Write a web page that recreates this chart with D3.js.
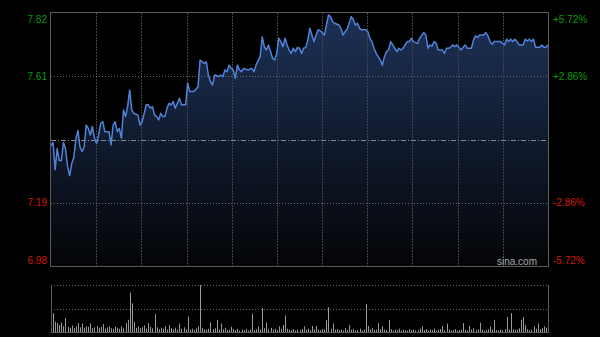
<!DOCTYPE html>
<html>
<head>
<meta charset="utf-8">
<script src="https://cdn.jsdelivr.net/npm/d3@7"></script>
<style>
  body { margin: 0; background: #000; }
  svg { display: block; background: #000; font-family: "Liberation Sans", Arial, sans-serif; }
</style>
</head>
<body>
<svg width="600" height="337"></svg>
<script>
// minute index (0..240) and price
var minutes = [0,1,2,3,4,5,6,7,8,9,10,11,12,13,14,15,16,17,18,19,20,21,22,23,24,25,26,28,29,30,31,32,33,34,35,36,37,38,39,40,42,43,44,45,46,
  47,48,49,50,51,52,53,54,55,56,57,58,59,60,61,62,63,65,66,67,69,71,72,73,74,75,76,77,78,79,81,82,83,84,85,86,87,88,89,90,91,92,93,95,
  97,98,99,101,102,103,104,105,106,107,108,109,110,111,112,113,114,115,116,117,118,119,120,121,122,123,124,125,126,127,128,129,130,131,132,134,135,136,137,139,140,141,142,143,
  145,146,147,148,149,150,152,153,154,155,156,157,158,159,160,161,162,163,164,165,166,167,168,169,170,172,173,174,175,177,178,180,181,182,183,184,185,186,187,189,190,191,192,
  193,194,195,196,197,198,199,200,201,203,204,205,206,207,209,210,211,212,213,214,217,219,220,221,222,223,224,225,226,228,229,230,231,232,233,234,236,237,238,239,240];
var prices = [7.38,7.39,7.30,7.37,7.33,7.33,7.39,7.37,7.31,7.28,7.32,7.34,7.40,7.43,7.375,7.36,7.376,7.448,7.437,7.415,7.443,7.404,7.387,7.415,7.454,7.459,7.426,7.426,7.382,7.448,7.459,7.426,7.437,7.404,7.498,7.476,7.509,7.564,7.498,7.487,7.481,7.448,7.459,7.487,7.515,
  7.515,7.504,7.509,7.481,7.476,7.465,7.487,7.476,7.476,7.504,7.520,7.515,7.526,7.504,7.520,7.537,7.515,7.515,7.587,7.559,7.559,7.575,7.664,7.658,7.653,7.658,7.614,7.592,7.581,7.614,7.609,7.614,7.609,7.631,7.625,7.647,7.636,7.631,7.603,7.647,7.631,7.625,7.636,7.631,
  7.636,7.625,7.647,7.675,7.741,7.708,7.697,7.714,7.692,7.670,7.664,7.686,7.736,7.725,7.708,7.736,7.714,7.697,7.686,7.703,7.692,7.706,7.703,7.686,7.703,7.706,7.730,7.769,7.747,7.725,7.747,7.764,7.761,7.755,7.747,7.813,7.808,7.791,7.786,7.780,7.769,7.747,7.758,7.766,
  7.808,7.797,7.780,7.786,7.769,7.764,7.764,7.758,7.736,7.725,7.703,7.686,7.675,7.664,7.647,7.675,7.692,7.697,7.725,7.714,7.703,7.692,7.703,7.697,7.703,7.725,7.725,7.736,7.725,7.719,7.736,7.755,7.747,7.703,7.714,7.710,7.725,7.719,7.697,7.697,7.686,7.703,7.703,
  7.706,7.714,7.708,7.714,7.706,7.697,7.706,7.714,7.703,7.703,7.730,7.744,7.739,7.747,7.747,7.755,7.744,7.725,7.716,7.725,7.725,7.714,7.733,7.725,7.733,7.725,7.733,7.725,7.714,7.714,7.733,7.727,7.733,7.725,7.733,7.706,7.706,7.714,7.706,7.706,7.714];

// volume per minute, as % of the biggest bar
var volumes = [100,40,22,19,15,20,12,30,11,9,14,8,12,19,10,18,9,12,11,18,
  8,10,13,9,11,17,7,10,12,8,6,11,9,7,12,8,19,26,84,61,
  22,9,12,8,10,14,7,19,11,8,38,10,6,9,7,12,5,15,8,6,
  9,5,18,7,10,6,33,5,7,4,8,12,100,9,6,5,7,20,6,8,
  26,5,18,6,9,4,5,11,6,4,7,3,5,4,6,3,5,39,4,6,
  12,5,51,8,20,6,9,5,7,4,12,6,15,35,7,5,4,6,3,5,
  4,6,12,5,7,4,13,6,13,5,4,6,5,25,53,7,18,5,6,4,
  5,3,8,4,15,5,6,3,4,7,3,5,60,13,6,8,4,5,19,6,
  12,5,4,26,6,3,5,4,7,3,5,4,3,6,4,5,3,4,7,12,
  4,6,3,5,4,7,3,5,6,13,4,18,5,3,4,6,3,4,5,19,
  4,3,13,5,8,4,6,20,5,3,4,6,12,5,26,4,3,5,4,6,
  32,5,40,6,4,5,8,26,32,15,6,4,5,12,7,18,6,8,12,9,
  30];

var priceTicks = [7.82, 7.61, 7.19, 6.98];
var priceLabels = ["7.82", "7.61", "7.19", "6.98"];
var pctLabels = ["+5.72%", "+2.86%", "-2.86%", "-5.72%"];
var prevClose = 7.40;

var svg = d3.select("svg"),
    margin = {top: 13, left: 51},
    width = 497,
    height = 253,
    volTop = 285,
    volHeight = 47;

var g = svg.append("g").attr("transform", "translate(" + margin.left + "," + margin.top + ")");

var x = d3.scaleLinear().domain([0, 240]).range([0, width]);
var y = d3.scaleLinear().domain([6.98, 7.82]).range([height, 0]);

var data = minutes.map(function(m, i) { return {m: m, p: prices[i]}; });

// gradient for the area under the line
var grad = svg.append("defs").append("linearGradient")
    .attr("id", "fade")
    .attr("gradientUnits", "userSpaceOnUse")
    .attr("x1", 0).attr("y1", 0).attr("x2", 0).attr("y2", height);
grad.append("stop").attr("offset", "0%").attr("stop-color", "#1d3157");
grad.append("stop").attr("offset", "100%").attr("stop-color", "#040507");

var area = d3.area()
    .x(function(d) { return x(d.m); })
    .y0(height)
    .y1(function(d) { return y(d.p); });

var line = d3.line()
    .x(function(d) { return x(d.m); })
    .y(function(d) { return y(d.p); });

g.append("path")
    .datum(data)
    .attr("fill", "url(#fade)")
    .attr("d", area);

// vertical grid
var vx = d3.range(1, 11).map(function(k) { return k * width / 11; });
g.selectAll(".vgrid").data(vx).enter().append("line")
    .attr("x1", function(d) { return Math.round(d) + 0.5; })
    .attr("x2", function(d) { return Math.round(d) + 0.5; })
    .attr("y1", 0).attr("y2", height)
    .attr("stroke", "#444")
    .attr("stroke-dasharray", "2,1");

// horizontal grid
g.selectAll(".hgrid").data([7.61, 7.19]).enter().append("line")
    .attr("x1", 0).attr("x2", width)
    .attr("y1", function(d) { return Math.round(y(d)) + 0.5; })
    .attr("y2", function(d) { return Math.round(y(d)) + 0.5; })
    .attr("stroke", "#6a6a6a")
    .attr("stroke-dasharray", "1,2");

g.append("line")
    .attr("x1", 0).attr("x2", width)
    .attr("y1", Math.round(y(prevClose)) + 0.5)
    .attr("y2", Math.round(y(prevClose)) + 0.5)
    .attr("stroke", "#8a8a8a")
    .attr("stroke-dasharray", "5,2,1,2");

g.append("path")
    .datum(data)
    .attr("fill", "none")
    .attr("stroke", "#5083da")
    .attr("stroke-width", 1.5)
    .attr("stroke-linejoin", "round")
    .attr("d", line);

g.append("rect")
    .attr("x", -0.5).attr("y", -0.5)
    .attr("width", width + 1).attr("height", height + 1)
    .attr("fill", "none")
    .attr("stroke", "#5a5a5a");

// left / right labels
var lblY = [y(7.82) + 10, y(7.61) + 4, y(7.19) + 3, y(6.98) - 2];
svg.selectAll(".pl").data(priceLabels).enter().append("text")
    .attr("x", 47)
    .attr("y", function(d, i) { return margin.top + lblY[i]; })
    .attr("text-anchor", "end")
    .attr("font-size", 10)
    .attr("fill", function(d, i) { return priceTicks[i] > prevClose ? "#0a9a0a" : "#d01a0a"; })
    .text(function(d) { return d; });

svg.selectAll(".pc").data(pctLabels).enter().append("text")
    .attr("x", 553)
    .attr("y", function(d, i) { return margin.top + lblY[i]; })
    .attr("font-size", 10)
    .attr("fill", function(d, i) { return priceTicks[i] > prevClose ? "#0a9a0a" : "#d01a0a"; })
    .text(function(d) { return d; });

svg.append("text")
    .attr("x", 537).attr("y", 265)
    .attr("text-anchor", "end")
    .attr("font-size", 10)
    .attr("fill", "#a8a8a8")
    .text("sina.com");

// volume panel
var vg = svg.append("g").attr("transform", "translate(" + margin.left + "," + volTop + ")");
var yv = d3.scaleLinear().domain([0, 100]).range([volHeight, 0]);

vg.append("line")
    .attr("x1", 0).attr("x2", width).attr("y1", 0.5).attr("y2", 0.5)
    .attr("stroke", "#666").attr("stroke-dasharray", "1,2");
vg.append("line")
    .attr("x1", 0).attr("x2", width)
    .attr("y1", Math.round(yv(50)) + 0.5).attr("y2", Math.round(yv(50)) + 0.5)
    .attr("stroke", "#666").attr("stroke-dasharray", "1,2");

vg.selectAll(".vol").data(volumes).enter().append("rect")
    .attr("x", function(d, i) { return Math.round(x(i)); })
    .attr("y", function(d) { return yv(d); })
    .attr("width", 1)
    .attr("height", function(d) { return volHeight - yv(d); })
    .attr("fill", "#9a9a9a");

vg.append("line").attr("x1", 0.5).attr("x2", 0.5).attr("y1", 0).attr("y2", volHeight).attr("stroke", "#5a5a5a");
vg.append("line").attr("x1", width + 0.5).attr("x2", width + 0.5).attr("y1", 0).attr("y2", volHeight).attr("stroke", "#5a5a5a");
vg.append("line").attr("x1", 0).attr("x2", width + 1).attr("y1", volHeight + 0.5).attr("y2", volHeight + 0.5).attr("stroke", "#5a5a5a");
</script>
</body>
</html>
